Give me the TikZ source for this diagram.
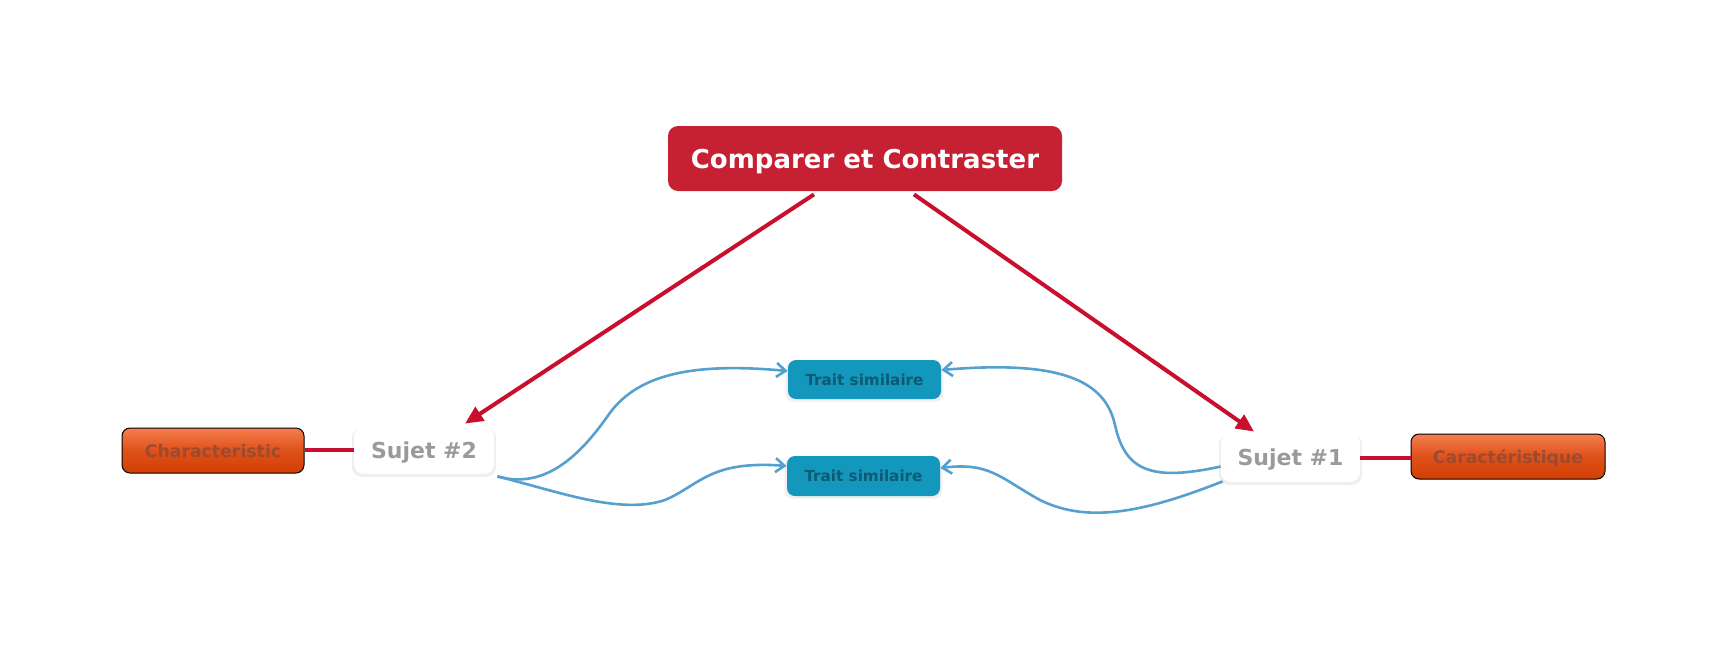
\documentclass[tikz,border=0pt]{standalone}
\usepackage{fontspec}
\setmainfont{DejaVu Sans}
\usetikzlibrary{arrows.meta,shadows,calc}
\definecolor{crimson}{HTML}{C8102E}
\definecolor{titlered}{HTML}{C62033}
\definecolor{oratop}{HTML}{F67E50}
\definecolor{orabot}{HTML}{D33E02}
\definecolor{oratext}{HTML}{9C4B30}
\definecolor{teal}{HTML}{1497BC}
\definecolor{tealtext}{HTML}{0D5A72}
\definecolor{graytext}{HTML}{9A9A9A}
\definecolor{bluelink}{HTML}{56A0D0}
\begin{document}
\begin{tikzpicture}[x=0.5pt,y=-0.5pt,
  titlebox/.style={fill=titlered, rounded corners=5pt, text=white, font=\bfseries\fontsize{13}{15}\selectfont, inner sep=0pt, text depth=0pt, minimum width=197pt, minimum height=32.5pt},
  subjbox/.style={fill=white, rounded corners=5pt, text=graytext, font=\bfseries\fontsize{11}{13}\selectfont, inner sep=0pt, text depth=0pt, drop shadow={opacity=0.13, shadow xshift=0pt, shadow yshift=-1pt, shadow scale=1.03}},
  charbox/.style={draw=black, line width=0.5pt, rounded corners=4pt, top color=oratop, bottom color=orabot, middle color=orabot!70!oratop, text=oratext, font=\bfseries\fontsize{8.65}{10}\selectfont, inner sep=0pt, text depth=0pt, minimum height=22.5pt},
  traitbox/.style={fill=teal, rounded corners=4pt, text=tealtext, font=\bfseries\fontsize{7.6}{9}\selectfont, inner sep=0pt, text depth=0pt, minimum width=76.5pt, drop shadow={opacity=0.13, shadow xshift=0pt, shadow yshift=-1pt, shadow scale=1.03}},
  redarrow/.style={draw=crimson, line width=2pt, -{Triangle[length=9pt,width=8pt]}},
  redlink/.style={draw=crimson, line width=2pt},
  bluearrow/.style={draw=bluelink, line width=1.3pt, -{Straight Barb[length=4.5pt,width=7pt]}}
]
\useasboundingbox (0,0) rectangle (1736,644);

\node[titlebox] (title) at (865,158.5) {Comparer et Contraster};
\node[subjbox, minimum width=70pt, minimum height=24pt] (s2) at (424,450) {Sujet \#2};
\node[subjbox, minimum width=69.5pt, minimum height=24.5pt] (s1) at (1290.5,457.5) {Sujet \#1};
\node[charbox, minimum width=91pt] (c2) at (213,450.5) {Characteristic};
\node[charbox, minimum width=97pt] (c1) at (1508,456.5) {Caractéristique};
\node[traitbox, minimum height=19.5pt] (t1) at (864.5,379.5) {Trait similaire};
\node[traitbox, minimum height=20pt] (t2) at (863.5,476) {Trait similaire};

% red connectors
\draw[redarrow] ([xshift=-25.5pt,yshift=-1.5pt]title.south) -- ([xshift=20.5pt,yshift=1pt]s2.north);
\draw[redarrow] ([xshift=24.5pt,yshift=-1.5pt]title.south) -- ([xshift=-18.25pt,yshift=0.5pt]s1.north);
\draw[redlink] (c2.east |- s2.west) -- (s2.west);
\draw[redlink] (s1.east) -- (c1.west |- s1.east);

% blue connectors
\draw[bluearrow] ([xshift=1.5pt,yshift=-1pt]s2.south east) .. controls (545,490) and (580,455) .. (607,417)
  .. controls (635,375) and (690,362) .. ([yshift=4.25pt]t1.west);
\draw[bluearrow] ([xshift=1.5pt,yshift=-1pt]s2.south east) .. controls (560,492) and (620,515) .. (665,500)
  .. controls (700,485) and (710,460) .. ([yshift=5pt]t2.west);
\draw[bluearrow] ([yshift=-4.5pt]s1.west) .. controls (1150,482) and (1125,470) .. (1115,425)
  .. controls (1105,380) and (1060,360) .. ([yshift=4.75pt]t1.east);
\draw[bluearrow] ([xshift=1pt,yshift=0.5pt]s1.south west) .. controls (1150,510) and (1090,525) .. (1040,500)
  .. controls (1000,478) and (990,462) .. ([yshift=4pt]t2.east);
\end{tikzpicture}
\end{document}
